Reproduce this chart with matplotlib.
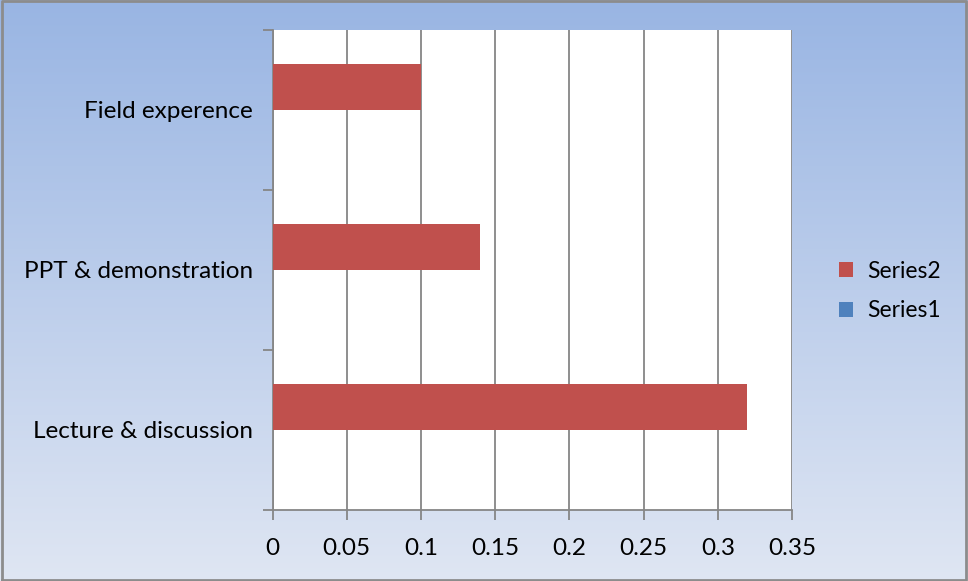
import numpy as np
import matplotlib
matplotlib.use("Agg")
import matplotlib.pyplot as plt
from matplotlib.colors import LinearSegmentedColormap

categories = ["Lecture & discussion", "PPT & demonstration", "Field experence"]
series1 = [0, 0, 0]
series2 = [0.32, 0.14, 0.10]
x_ticks = [0, 0.05, 0.1, 0.15, 0.2, 0.25, 0.3, 0.35]
x_labels = ["0", "0.05", "0.1", "0.15", "0.2", "0.25", "0.3", "0.35"]

plt.rcParams["font.family"] = ["Lato", "DejaVu Sans"]
FS = 17.5

W, H = 968, 581
fig = plt.figure(figsize=(W / 100, H / 100), dpi=100)

# gradient background, darker blue at the top
bg = fig.add_axes([0, 0, 1, 1], zorder=-1)
grad = np.linspace(0, 1, 256).reshape(-1, 1)
cmap = LinearSegmentedColormap.from_list("bg", ["#99b5e3", "#dfe6f3"])
bg.imshow(grad, aspect="auto", cmap=cmap, extent=[0, 1, 0, 1], origin="upper")
bg.plot([0.002, 0.998, 0.998, 0.002, 0.002], [0.002, 0.002, 0.998, 0.998, 0.002],
        color="#8c8c8c", lw=2, transform=bg.transAxes)
bg.set_xlim(0, 1)
bg.set_ylim(0, 1)
bg.axis("off")

# plot area in pixels: x 272..792, y 30..510
left, right, top, bottom = 272.5, 792, 30, 510
ax = fig.add_axes([left / W, 1 - bottom / H, (right - left) / W, (bottom - top) / H])
ax.set_facecolor("white")

y = np.arange(len(categories))
w = 1 / 3.5
ax.barh(y - w / 2, series1, height=w, color="#4f81bd", label="Series1", zorder=3)
ax.barh(y + w / 2, series2, height=w, color="#c0504d", label="Series2", zorder=3)

ax.set_xlim(0, 0.35)
ax.set_ylim(-0.5, len(categories) - 0.5)
ax.set_xticks(x_ticks)
ax.set_xticklabels(x_labels, fontsize=FS)
ax.xaxis.grid(True, color="#868686", lw=1.3, zorder=0)

ax.set_yticks(np.arange(-0.5, len(categories), 1))
ax.set_yticklabels([])
ax.set_yticks(y, minor=True)
ax.set_yticklabels(categories, minor=True, fontsize=FS)
ax.tick_params(axis="y", which="minor", length=0, pad=14)
ax.tick_params(axis="y", which="major", length=7, color="#868686", width=1.3)
ax.tick_params(axis="x", length=7, color="#868686", width=1.3, pad=13)

for s in ["top", "right"]:
    ax.spines[s].set_visible(False)
for s in ["left", "bottom"]:
    ax.spines[s].set_color("#868686")
    ax.spines[s].set_linewidth(1.3)

handles, labels = ax.get_legend_handles_labels()
fig.legend(handles[::-1], labels[::-1], loc="center left", bbox_to_anchor=(818 / W, 1 - 291 / H),
           frameon=False, fontsize=16.5, handlelength=0.62, handleheight=0.62,
           handletextpad=0.62, labelspacing=0.8)

fig.savefig("out.png", dpi=100)
